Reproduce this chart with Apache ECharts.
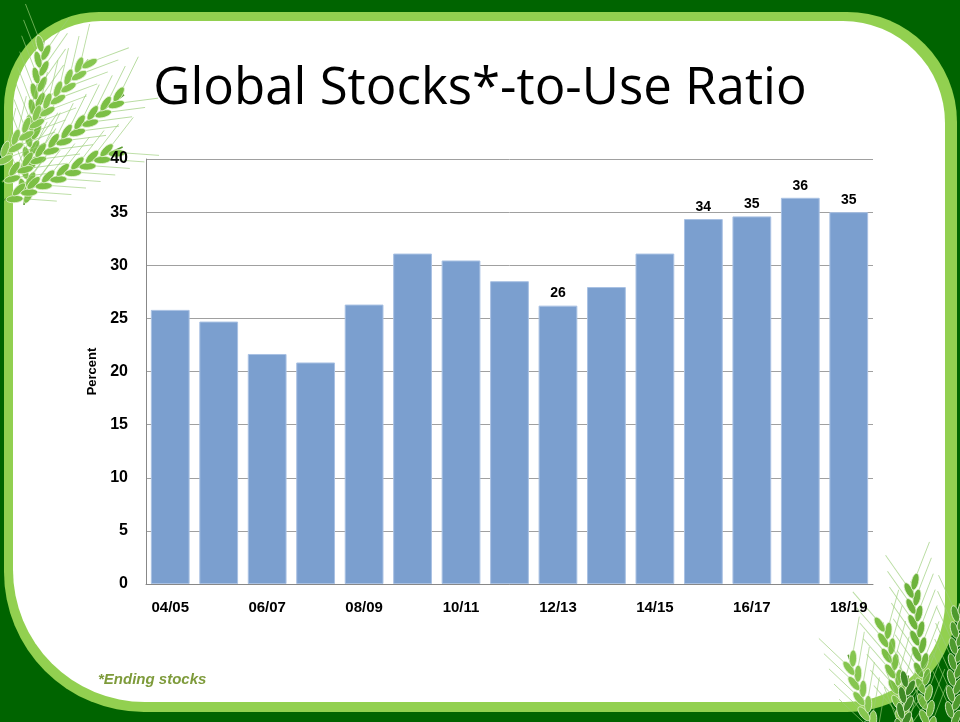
<!DOCTYPE html>
<html lang="en">
<head>
    <meta charset="UTF-8">
    <title>Global Stocks-to-Use Ratio</title>
    <script src="https://cdn.jsdelivr.net/npm/echarts@6/dist/echarts.min.js"></script>
    <style>
        html, body { margin: 0; padding: 0; background: #006400; }
    </style>
</head>
<body>
    <div id="chart" style="width: 960px; height: 722px;"></div>

    <script>
        var chart = echarts.init(document.getElementById('chart'));

        // marketing years and ratio (percent)
        var years = ['04/05', '05/06', '06/07', '07/08', '08/09', '09/10', '10/11', '11/12',
                     '12/13', '13/14', '14/15', '15/16', '16/17', '17/18', '18/19'];
        var ratio = [25.8, 24.7, 21.65, 20.85, 26.3, 31.1, 30.45, 28.5,
                     26.2, 27.95, 31.1, 34.35, 34.6, 36.35, 35.0];
        // bars that carry a value label
        var labeled = [8, 11, 12, 13, 14];

        var font = '"Liberation Sans", Arial, sans-serif';

        // one wheat ear: base at (x, y), pointing up, rotated by rot
        function ear(x, y, rot, len, s, fill) {
            var kids = [{
                type: 'line',
                shape: { x1: 0, y1: 0, x2: 0, y2: -len },
                style: { stroke: '#5E9E35', lineWidth: 1.6 * s }
            }];
            for (var t = 10 * s; t < len; t += 8 * s) {
                var side = Math.round(t / (8 * s)) % 2 ? 1 : -1;
                kids.push({
                    type: 'group',
                    x: side * 3.5 * s,
                    y: -t,
                    rotation: -side * 0.35,
                    children: [
                        { type: 'line', shape: { x1: 0, y1: -7 * s, x2: side * 5 * s, y2: -42 * s },
                          style: { stroke: '#9ACD78', lineWidth: 0.9, opacity: 0.7 } },
                        { type: 'ellipse', shape: { cx: 0, cy: 0, rx: 3.6 * s, ry: 8.5 * s },
                          style: { fill: fill, stroke: '#E4F3D2', lineWidth: 0.8 } }
                    ]
                });
            }
            return { type: 'group', x: x, y: y, rotation: rot, z: -5, silent: true, children: kids };
        }

        var decor = [
            { type: 'rect', z: -10, shape: { x: 4, y: 12, width: 953, height: 700, r: [95, 110, 110, 140] },
              style: { fill: '#92D050' } },
            { type: 'rect', z: -9, shape: { x: 13, y: 21, width: 932, height: 681, r: [88, 102, 100, 132] },
              style: { fill: '#ffffff' } },
            ear(24, 205, -0.12, 165, 1.0, '#7CBF45'),
            ear(2, 182, -0.95, 150, 1.0, '#7CBF45'),
            ear(-4, 165, -0.72, 140, 1.0, '#86C650'),
            ear(4, 200, -1.15, 130, 1.0, '#7CBF45'),
            ear(930, 735, 0.12, 155, 1.0, '#6DB33C'),
            ear(908, 735, 0.22, 115, 1.0, '#7CBF45'),
            ear(878, 745, 0.32, 95, 1.0, '#86C650'),
            ear(952, 728, -0.06, 125, 1.0, '#4E9A2E'),
            ear(900, 745, -0.12, 70, 1.0, '#3F8A26')
        ];

        chart.setOption({
            title: [{
                text: 'Global Stocks*-to-Use Ratio',
                left: 'center',
                top: 64,
                padding: 0,
                textStyle: { fontFamily: '"Open Sans", sans-serif', fontSize: 51, fontWeight: 'normal', color: '#000' }
            }, {
                text: '*Ending stocks',
                left: 98,
                top: 672,
                padding: 0,
                textStyle: { fontFamily: font, fontSize: 15, fontWeight: 'bold', fontStyle: 'italic', color: '#7E9B3B' }
            }],
            graphic: decor,
            grid: { left: 146, right: 87, top: 159, bottom: 138 },
            xAxis: {
                type: 'category',
                data: years,
                axisLine: { lineStyle: { color: '#888', width: 1 } },
                axisTick: { interval: 0, length: 6, lineStyle: { color: '#888' } },
                axisLabel: { interval: 1, margin: 16, color: '#000', fontFamily: font, fontSize: 15, fontWeight: 'bold' }
            },
            yAxis: {
                type: 'value',
                min: 0,
                max: 40,
                interval: 5,
                name: 'Percent',
                nameLocation: 'middle',
                nameRotate: 90,
                nameGap: 45,
                nameTextStyle: { color: '#000', fontFamily: font, fontSize: 13, fontWeight: 'bold' },
                axisLine: { show: true, lineStyle: { color: '#888', width: 1 } },
                axisTick: { show: false },
                axisLabel: { margin: 18, color: '#000', fontFamily: font, fontSize: 16, fontWeight: 'bold' },
                splitLine: { lineStyle: { color: '#A0A0A0', width: 1 } }
            },
            series: [{
                type: 'bar',
                barCategoryGap: '20%',
                itemStyle: { color: '#7B9FCF', borderColor: '#A9C1E3', borderWidth: 1 },
                label: {
                    position: 'top',
                    distance: 5,
                    color: '#000',
                    fontFamily: font,
                    fontSize: 14,
                    fontWeight: 'bold',
                    formatter: function (p) { return Math.round(p.value); }
                },
                data: ratio.map(function (v, i) {
                    return { value: v, label: { show: labeled.indexOf(i) >= 0 } };
                })
            }]
        });
    </script>
</body>
</html>
